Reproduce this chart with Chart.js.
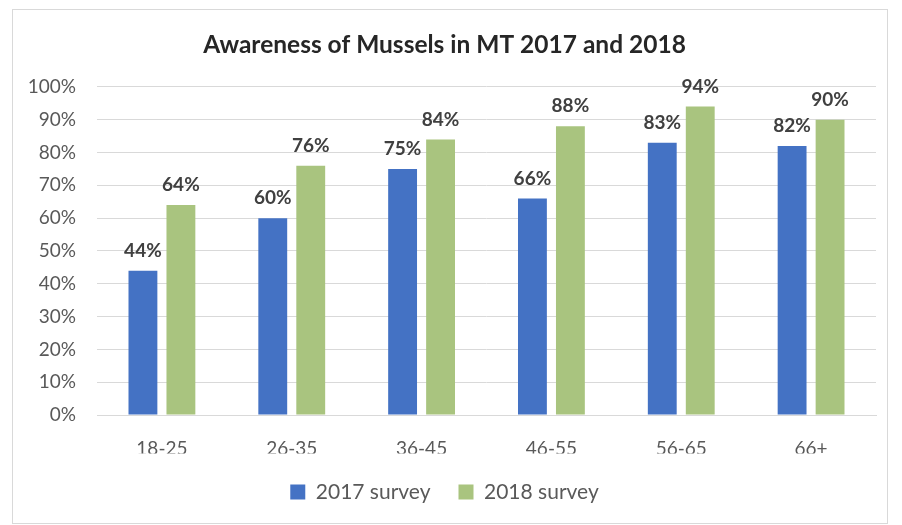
<!DOCTYPE html>
<html>
<head>
<meta charset="utf-8">
<script src="https://cdn.jsdelivr.net/npm/chart.js@4"></script>
<style>
  body { margin: 0; background: #fff; width: 902px; height: 525px; overflow: hidden; position: relative; }
  #box { position: absolute; left: 12px; top: 9px; width: 876px; height: 515px; border: 1px solid #d9d9d9; box-sizing: border-box; }
</style>
</head>
<body>
<div id="box"><canvas id="awarenessChart"></canvas></div>
<script>
// Categorias e valores (%)
const ageGroups = ['18-25', '26-35', '36-45', '46-55', '56-65', '66+'];
const survey2017 = [44, 60, 75, 66, 83, 82];
const survey2018 = [64, 76, 84, 88, 94, 90];
const seriesNames = ['2017 survey', '2018 survey'];

const fontFamily = 'Lato, "Open Sans", sans-serif';

// Rótulos em cima das barras
const barLabels = {
    id: 'barLabels',
    afterDatasetsDraw(chart) {
        const ctx = chart.ctx;
        ctx.save();
        ctx.font = 'bold 19px ' + fontFamily;
        ctx.fillStyle = '#404040';
        ctx.textAlign = 'center';
        ctx.textBaseline = 'middle';
        chart.data.datasets.forEach((ds, i) => {
            chart.getDatasetMeta(i).data.forEach((bar, j) => {
                ctx.fillText(ds.data[j] + '%', bar.x, bar.y - 20);
            });
        });
        ctx.restore();
    }
};

new Chart(document.getElementById('awarenessChart'), {
    type: 'bar',
    data: {
        labels: ageGroups,
        datasets: [
            { label: seriesNames[0], data: survey2017, backgroundColor: '#4472C4' },
            { label: seriesNames[1], data: survey2018, backgroundColor: '#A9C47F' }
        ]
    },
    options: {
        responsive: true,
        maintainAspectRatio: false,
        animation: false,
        categoryPercentage: 0.585,
        barPercentage: 0.76,
        layout: { padding: { left: 0, right: 11, top: 0, bottom: 10.5 } },
        scales: {
            x: {
                grid: { display: false, drawTicks: false },
                border: { color: '#d9d9d9' },
                ticks: { color: '#595959', font: { family: fontFamily, size: 19 }, padding: 22 },
                afterFit(scale) { scale.height = 38.5; }
            },
            y: {
                min: 0,
                max: 100,
                grid: { color: '#d9d9d9', drawTicks: false },
                border: { display: false },
                ticks: {
                    stepSize: 10,
                    color: '#595959',
                    font: { family: fontFamily, size: 19 },
                    padding: 21,
                    callback: v => v + '%'
                },
                afterFit(scale) { scale.width = 84; }
            }
        },
        plugins: {
            title: {
                display: true,
                text: 'Awareness of Mussels in MT 2017 and 2018',
                color: '#262626',
                font: { family: fontFamily, size: 24.5, weight: 'bold' },
                padding: { top: 20, bottom: 27.5 }
            },
            legend: {
                position: 'bottom',
                labels: {
                    color: '#595959',
                    font: { family: fontFamily, size: 21 },
                    boxWidth: 15,
                    boxHeight: 15,
                    padding: 28
                }
            },
            tooltip: { enabled: false }
        }
    },
    plugins: [barLabels]
});
</script>
</body>
</html>
